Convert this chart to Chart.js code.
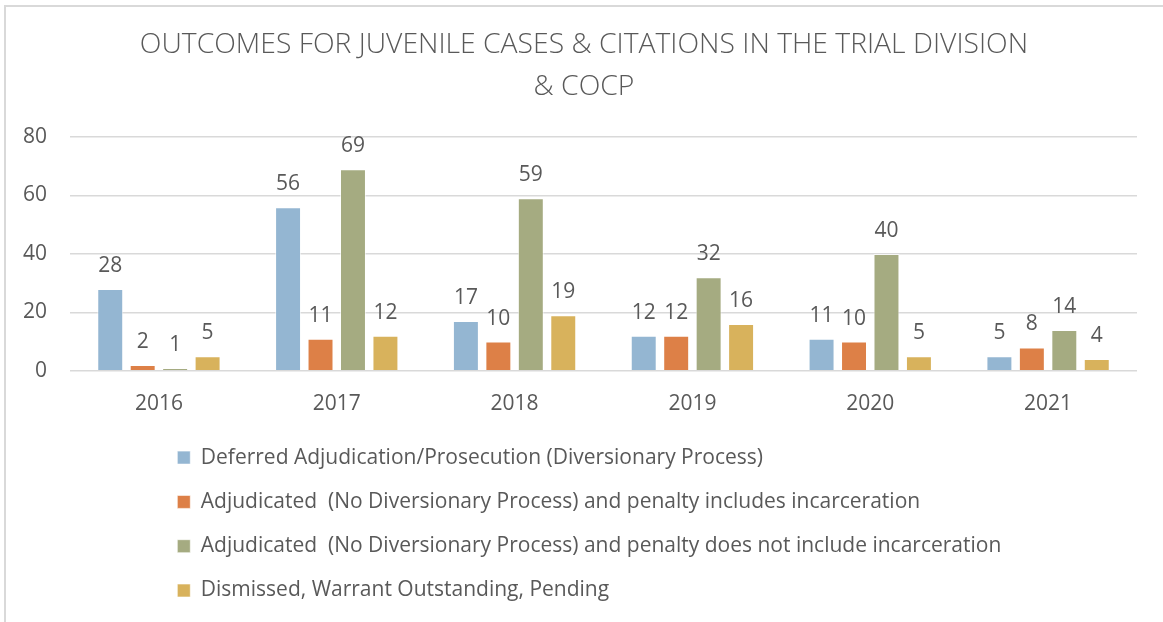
<!DOCTYPE html>
<html>
<head>
<meta charset="utf-8">
<script src="https://cdn.jsdelivr.net/npm/chart.js@4.4.1/dist/chart.umd.min.js"></script>
<style>
  html, body { margin: 0; padding: 0; background: #ffffff; }
  #frame {
    position: absolute; left: 4px; top: 5px; width: 1200px; height: 700px;
    border-left: 2px solid #d9d9d9; border-top: 2px solid #d9d9d9;
  }
  #wrap { position: absolute; left: 0; top: 0; width: 1163px; height: 622px; }
</style>
</head>
<body>
<div id="frame"></div>
<div id="wrap"><canvas id="chart"></canvas></div>
<script>
// Chart values
const years = ['2016', '2017', '2018', '2019', '2020', '2021'];
const seriesNames = [
  'Deferred Adjudication/Prosecution (Diversionary Process)',
  'Adjudicated  (No Diversionary Process) and penalty includes incarceration',
  'Adjudicated  (No Diversionary Process) and penalty does not include incarceration',
  'Dismissed, Warrant Outstanding, Pending',
];
const deferred = [28, 56, 17, 12, 11, 5];
const withIncarceration = [2, 11, 10, 12, 10, 8];
const withoutIncarceration = [1, 69, 59, 32, 40, 14];
const dismissed = [5, 12, 19, 16, 5, 4];
const yTicks = [0, 20, 40, 60, 80];

const TEXT_COLOR = '#595959';
const GRID_COLOR = '#d9d9d9';
const FONT = '"Open Sans", "Noto Sans", sans-serif';
const barColors = ['#94b6d2', '#dd8047', '#a5ab81', '#d8b25c'];

const seriesValues = [deferred, withIncarceration, withoutIncarceration, dismissed];

// Draws the value above every bar, like Excel data labels
const valueLabels = {
  id: 'valueLabels',
  afterDatasetsDraw(chart) {
    const { ctx } = chart;
    ctx.save();
    ctx.font = `21px ${FONT}`;
    ctx.fillStyle = TEXT_COLOR;
    ctx.textAlign = 'center';
    ctx.textBaseline = 'alphabetic';
    chart.data.datasets.forEach((ds, i) => {
      const meta = chart.getDatasetMeta(i);
      meta.data.forEach((bar, j) => {
        ctx.fillText(String(ds.data[j]), bar.x, bar.y - 17);
      });
    });
    ctx.restore();
  },
};

// Moves the stacked legend rows in from the left edge and
// centres the title over the whole frame, as Excel does
const boxOffsets = {
  id: 'boxOffsets',
  afterLayout(chart) {
    if (chart.legend) {
      chart.legend.left += 154;
      chart.legend.right += 154;
    }
    if (chart.titleBlock) {
      chart.titleBlock.left += 31;
    }
  },
};

const ctx = document.getElementById('chart').getContext('2d');
new Chart(ctx, {
  type: 'bar',
  data: {
    labels: years,
    datasets: seriesNames.map((name, i) => ({
      label: name,
      data: seriesValues[i],
      backgroundColor: barColors[i],
      borderColor: 'rgba(255,255,255,0.6)',
      borderWidth: 1,
      categoryPercentage: 0.73,
      barPercentage: 0.8,
    })),
  },
  options: {
    responsive: true,
    maintainAspectRatio: false,
    animation: false,
    layout: {
      padding: { left: 0, right: 26, top: 0, bottom: 11 },
    },
    plugins: {
      title: {
        display: true,
        text: ['OUTCOMES FOR JUVENILE CASES & CITATIONS IN THE TRIAL DIVISION', '& COCP'],
        color: TEXT_COLOR,
        font: { family: FONT, size: 28.3, weight: '300', lineHeight: 42 / 28.3 },
        padding: { top: 24, bottom: 29 },
      },
      legend: {
        position: 'bottom',
        align: 'start',
        labels: {
          color: TEXT_COLOR,
          font: { family: FONT, size: 21 },
          boxWidth: 13,
          boxHeight: 13,
          padding: 23.3,
        },
      },
      tooltip: { enabled: false },
    },
    scales: {
      x: {
        grid: { display: false },
        border: { display: false },
        ticks: {
          color: TEXT_COLOR,
          font: { family: FONT, size: 21 },
          padding: 13,
        },
        afterFit: (scale) => {
          scale.height -= 6.2;
        },
      },
      y: {
        min: 0,
        max: 80,
        afterBuildTicks: (scale) => {
          scale.ticks = yTicks.map((v) => ({ value: v }));
        },
        afterFit: (scale) => {
          scale.width = 70;
        },
        grid: {
          color: GRID_COLOR,
          lineWidth: 1.5,
          drawTicks: false,
        },
        border: { display: false },
        ticks: {
          color: TEXT_COLOR,
          font: { family: FONT, size: 21 },
          padding: 23,
        },
      },
    },
  },
  plugins: [valueLabels, boxOffsets],
});
</script>
</body>
</html>
